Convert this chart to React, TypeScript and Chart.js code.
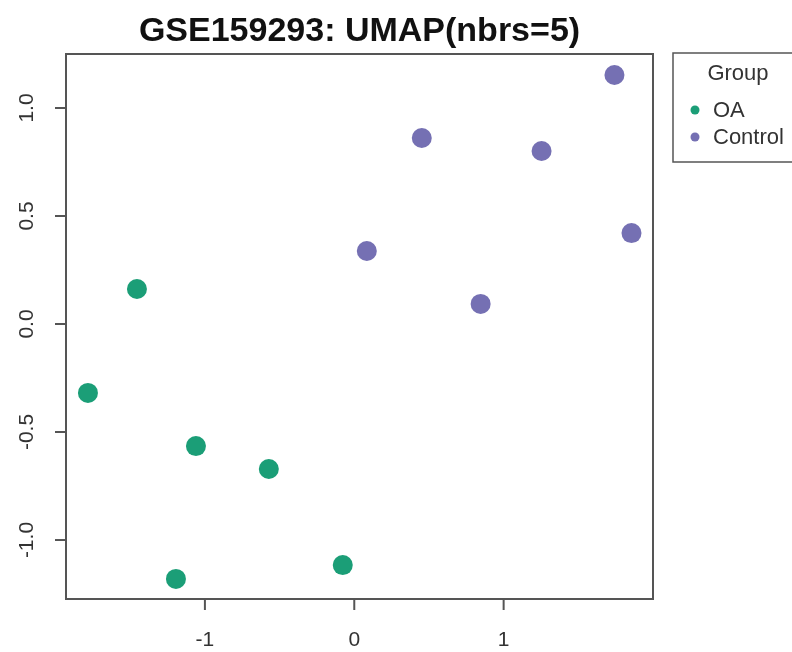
import React, { useEffect, useRef } from "react";
import { Chart, registerables } from "chart.js";

Chart.register(...registerables);

const TITLE = "GSE159293: UMAP(nbrs=5)";
const LEGEND_TITLE = "Group";
const groups = ["OA", "Control"];
const groupColors = ["#1B9E77", "#7570B3"];

const oaX = [-1.455, -1.783, -1.06, -0.572, -1.194, -0.077];
const oaY = [0.162, -0.319, -0.565, -0.671, -1.18, -1.116];
const ctrlX = [1.742, 0.452, 1.254, 1.856, 0.084, 0.846];
const ctrlY = [1.153, 0.861, 0.801, 0.421, 0.338, 0.093];

const xTicks = [-1, 0, 1];
const xTickLabels = ["-1", "0", "1"];
const yTicks = [-1, -0.5, 0, 0.5, 1];
const yTickLabels = ["-1.0", "-0.5", "0.0", "0.5", "1.0"];

const FONT = '"Liberation Sans", Arial, Helvetica, sans-serif';

const rPlotPlugin = {
  id: "rPlot",
  afterDraw(chart: any) {
    const { ctx, chartArea, scales } = chart;
    const { left, right, top, bottom } = chartArea;
    const xs = scales.x;
    const ys = scales.y;
    ctx.save();
    // box
    ctx.strokeStyle = "#555";
    ctx.lineWidth = 2;
    ctx.strokeRect(left, top, right - left, bottom - top);

    // x ticks
    ctx.fillStyle = "#333";
    ctx.font = `21px ${FONT}`;
    ctx.textAlign = "center";
    ctx.textBaseline = "middle";
    xTicks.forEach((v, i) => {
      const px = xs.getPixelForValue(v);
      ctx.beginPath();
      ctx.moveTo(px, bottom);
      ctx.lineTo(px, bottom + 11);
      ctx.stroke();
      ctx.fillText(xTickLabels[i], px, bottom + 41);
    });

    // y ticks
    yTicks.forEach((v, i) => {
      const py = ys.getPixelForValue(v);
      ctx.beginPath();
      ctx.moveTo(left, py);
      ctx.lineTo(left - 11, py);
      ctx.stroke();
      ctx.save();
      ctx.translate(27, py);
      ctx.rotate(-Math.PI / 2);
      ctx.fillText(yTickLabels[i], 0, 0);
      ctx.restore();
    });

    // title
    ctx.fillStyle = "#111";
    ctx.font = `bold 34px ${FONT}`;
    ctx.textAlign = "center";
    ctx.textBaseline = "alphabetic";
    ctx.fillText(TITLE, (left + right) / 2, 41);

    // legend
    const lx = 673;
    const ly = 53;
    const lw = 130;
    const lh = 109;
    ctx.strokeStyle = "#555";
    ctx.lineWidth = 1.5;
    ctx.strokeRect(lx, ly, lw, lh);
    ctx.fillStyle = "#333";
    ctx.font = `22px ${FONT}`;
    ctx.textBaseline = "middle";
    ctx.textAlign = "center";
    ctx.fillText(LEGEND_TITLE, 738, 74);
    ctx.textAlign = "left";
    const rowY = [110, 137];
    groups.forEach((g, i) => {
      ctx.fillStyle = groupColors[i];
      ctx.beginPath();
      ctx.arc(695, rowY[i], 4.5, 0, Math.PI * 2);
      ctx.fill();
      ctx.fillStyle = "#333";
      ctx.fillText(g, 713, rowY[i] + 1);
    });
    ctx.restore();
  },
};

export default function App() {
  const ref = useRef<HTMLCanvasElement>(null);
  useEffect(() => {
    if (!ref.current) return;
    const chart = new Chart(ref.current, {
      type: "scatter",
      data: {
        datasets: [
          {
            label: groups[0],
            data: oaX.map((x, i) => ({ x, y: oaY[i] })),
            backgroundColor: groupColors[0],
            borderWidth: 0,
            pointRadius: 10,
          },
          {
            label: groups[1],
            data: ctrlX.map((x, i) => ({ x, y: ctrlY[i] })),
            backgroundColor: groupColors[1],
            borderWidth: 0,
            pointRadius: 10,
          },
        ],
      },
      options: {
        responsive: false,
        animation: false,
        devicePixelRatio: 1,
        layout: { padding: { left: 66, top: 54, right: 139, bottom: 53 } },
        plugins: {
          legend: { display: false },
          title: { display: false },
          tooltip: { enabled: false },
        },
        scales: {
          x: { type: "linear", min: -1.93, max: 2.0, display: false },
          y: { type: "linear", min: -1.273, max: 1.25, display: false },
        },
      },
      plugins: [rPlotPlugin],
    });
    return () => chart.destroy();
  }, []);
  return (
    <div style={{ position: "fixed", left: 0, top: 0, width: 792, height: 652, background: "#fff" }}>
      <canvas ref={ref} width={792} height={652} style={{ display: "block" }} />
    </div>
  );
}
